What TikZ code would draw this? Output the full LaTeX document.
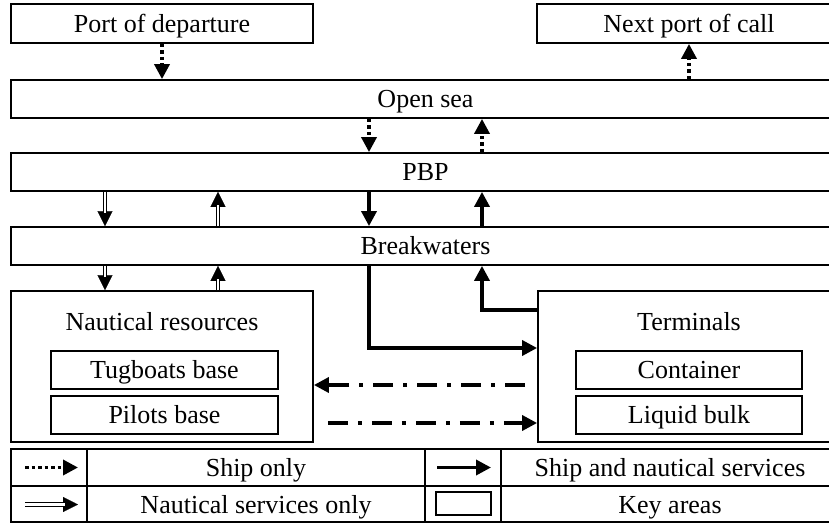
\documentclass[tikz,border=0pt]{standalone}
\usepackage{fontspec}
\setmainfont{Liberation Serif}
\usetikzlibrary{arrows.meta}
\tikzset{
  txt/.style={font=\fontsize{26}{30}\selectfont, inner sep=0pt, text height=17.4pt, text depth=0pt},
  box/.style={draw, line width=1.8pt, inner sep=0pt, txt},
  tip/.style={-{Triangle[width=15pt,length=15pt]}},
  shiponly/.style={tip, line width=3.5pt, dash pattern=on 3.5pt off 3pt},
  shipnaut/.style={tip, line width=3.5pt},
  nautonly/.style={draw=none,
    postaction={draw, line width=0.3pt, -{Triangle[width=15pt,length=15pt]}},
    postaction={draw, line width=1.2pt, double, double distance=2.4pt, shorten >=13pt}},
  dashdot/.style={tip, line width=3.5pt, dash pattern=on 20pt off 10pt on 4pt off 10pt},
  grid/.style={line width=1.8pt}
}
\begin{document}
\begin{tikzpicture}[x=1pt,y=-1pt]
\useasboundingbox (0,0) rectangle (829,524);
\clip (0,0) rectangle (829,524);
% boxes
\node[box, minimum width=302pt, minimum height=39pt] (dep) at (162,23.5) {Port of departure};
\node[box, minimum width=304pt, minimum height=39pt] (next) at (689,23.5) {Next port of call};
\node[box, minimum width=829pt, minimum height=38pt] (sea) at (425.5,99) {Open sea};
\node[box, minimum width=829pt, minimum height=38pt] (pbp) at (425.5,172) {PBP};
\node[box, minimum width=829pt, minimum height=38pt] (bw) at (425.5,246) {Breakwaters};
\node[box, minimum width=302pt, minimum height=151pt] (naut) at (162,366.5) {};
\node[box, minimum width=302pt, minimum height=151pt] (term) at (689,366.5) {};
\node[txt] (nautl) at (162,322) {Nautical resources};
\node[txt] (terml) at (689,322) {Terminals};
\node[box, minimum width=227pt, minimum height=38pt] (tug) at (164.5,370) {Tugboats base};
\node[box, minimum width=227pt, minimum height=38pt] (pil) at (164.5,415) {Pilots base};
\node[box, minimum width=226pt, minimum height=38pt] (cont) at (689,370) {Container};
\node[box, minimum width=226pt, minimum height=38pt] (liq) at (689,415) {Liquid bulk};
% x positions
\coordinate (xa) at (105,0);
\coordinate (xb) at (218,0);
\coordinate (xc) at (369,0);
\coordinate (xd) at (482,0);
\coordinate (ya) at (0,348);
\coordinate (yb) at (0,310);
\coordinate (yc) at (0,385);
\coordinate (yd) at (0,423);
% connectors
\draw[shiponly] (dep.south) -- (sea.north -| dep.south);
\draw[shiponly] (sea.north -| next.south) -- (next.south);
\draw[shiponly] (sea.south -| xc) -- (pbp.north -| xc);
\draw[shiponly] (pbp.north -| xd) -- (sea.south -| xd);
\draw[shipnaut] (pbp.south -| xc) -- (bw.north -| xc);
\draw[shipnaut] (bw.north -| xd) -- (pbp.south -| xd);
\path[nautonly] (pbp.south -| xa) -- (bw.north -| xa);
\path[nautonly] (bw.north -| xb) -- (pbp.south -| xb);
\path[nautonly] (bw.south -| xa) -- (naut.north -| xa);
\path[nautonly] (naut.north -| xb) -- (bw.south -| xb);
\draw[shipnaut] (bw.south -| xc) |- (term.west |- ya);
\draw[shipnaut] (term.west |- yb) -| (bw.south -| xd);
\draw[dashdot, shorten <=12pt] (term.west |- yc) -- (naut.east |- yc);
\draw[dashdot, shorten <=14pt] (naut.east |- yd) -- (term.west |- yd);
% legend
\draw[grid] (11,449) rectangle (840,522);
\draw[grid] (11,486) -- (840,486);
\draw[grid] (87,449) -- (87,522);
\draw[grid] (425,449) -- (425,522);
\draw[grid] (501,449) -- (501,522);
\coordinate (l1a) at (25,467.5);
\coordinate (l1b) at (78,467.5);
\coordinate (l2a) at (25,504.5);
\coordinate (l2b) at (78,504.5);
\coordinate (l3a) at (437,467.5);
\coordinate (l3b) at (491,467.5);
\draw[shiponly] (l1a) -- (l1b);
\path[nautonly] (l2a) -- (l2b);
\draw[shipnaut] (l3a) -- (l3b);
\node[draw, line width=1.8pt, minimum width=55pt, minimum height=23pt, inner sep=0pt] (key) at (463.5,503.5) {};
\node[txt] (t1) at (256,467.5) {Ship only};
\node[txt] (t2) at (256,504.5) {Nautical services only};
\node[txt] (t3) at (670,467.5) {Ship and nautical services};
\node[txt] (t4) at (670,504.5) {Key areas};
\end{tikzpicture}
\end{document}
